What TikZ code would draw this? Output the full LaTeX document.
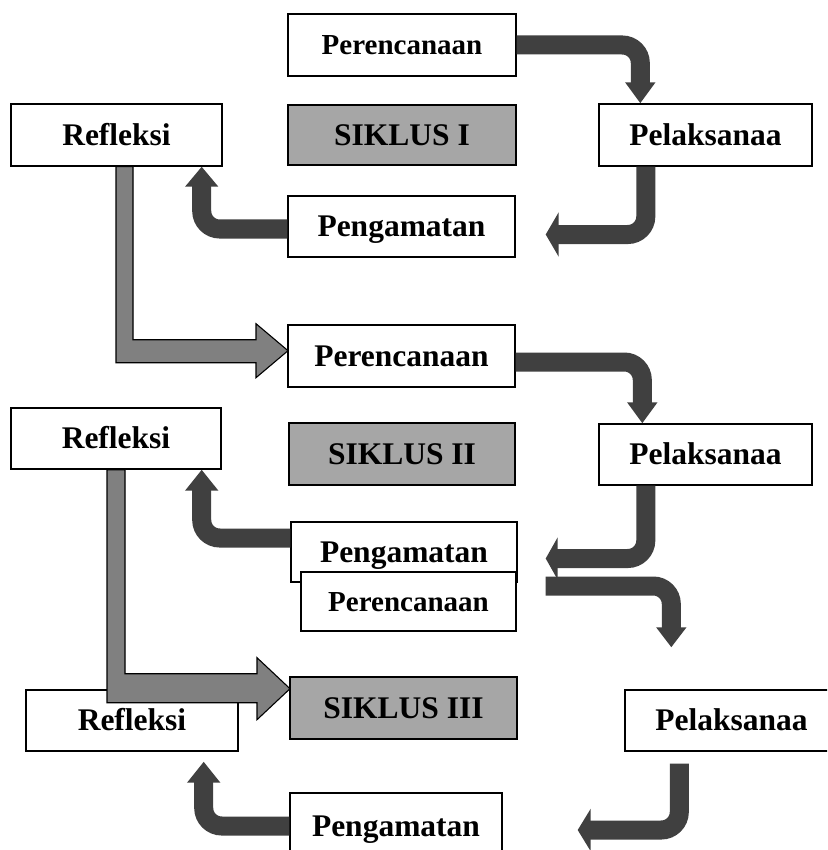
\documentclass[tikz,border=0pt]{standalone}
\usepackage{fontspec}
\setmainfont{Liberation Serif}
\usetikzlibrary{arrows.meta,calc}
\definecolor{darkarrow}{HTML}{404040}
\definecolor{midgray}{HTML}{808080}
\definecolor{boxgray}{HTML}{A6A6A6}
\definecolor{shadowgray}{HTML}{B8B8B8}
\begin{document}
\begin{tikzpicture}[x=1pt,y=-1pt,
  box/.style={draw=black, line width=1.4pt, fill=white, inner sep=0pt,
    text height=20.9pt, text depth=0pt,
    font=\fontsize{31.5}{36}\selectfont\bfseries},
  smallbox/.style={box, text height=19.2pt, font=\fontsize{29}{34}\selectfont\bfseries},
  graybox/.style={box, fill=boxgray},
  dk/.style={draw=darkarrow, line width=19pt, rounded corners=18pt},
  grayarrow/.style={fill=midgray, draw=black, line width=1.1pt, line join=miter},
  grayshadow/.style={fill=shadowgray}
]
\useasboundingbox (0,0) rectangle (827,850);
\fill[white] (0,0) rectangle (827,850);
\clip (0,0) rectangle (827,850);

% ---------- Cycle I ----------
\node[smallbox, minimum width=228, minimum height=62] (p1) at (402,45) {Perencanaan};
\node[graybox,  minimum width=228, minimum height=60] (s1) at (402,135) {SIKLUS I};
\node[box, minimum width=211, minimum height=62] (r1) at (116.5,135) {Refleksi};
\node[box, minimum width=213, minimum height=62] (pl1) at (705.5,135) {Pelaksanaa};
\node[box, minimum width=227, minimum height=61] (pg1) at (401.5,226.5) {Pengamatan};

% ---------- Cycle II ----------
\node[box, minimum width=227, minimum height=62] (p2) at (401.5,356) {Perencanaan};
\node[box, minimum width=210, minimum height=61] (r2) at (116,438.5) {Refleksi};
\node[graybox, minimum width=226, minimum height=62] (s2) at (402,454) {SIKLUS II};
\node[box, minimum width=213, minimum height=61] (pl2) at (705.5,454.5) {Pelaksanaa};
\node[box, minimum width=226, minimum height=60] (pg2) at (404,552) {Pengamatan};
\node[smallbox, minimum width=215, minimum height=59] (p3) at (408.5,601.5) {Perencanaan};

% ---------- Cycle III ----------
\node[graybox, minimum width=227, minimum height=62] (s3) at (403.5,708) {SIKLUS III};
\node[box, minimum width=212, minimum height=61] (r3) at (132,720.5) {Refleksi};
\node[box, minimum width=213, minimum height=61] (pl3) at (731.5,720.5) {Pelaksanaa};
\node[box, minimum width=212, minimum height=66] (pg3) at (396,826) {Pengamatan};

% ---------- free ends ----------
\coordinate (b1e) at ($(pg1.east)+(30,8)$);
\coordinate (b2e) at ($(pg2.east)+(28,6.5)$);
\coordinate (a3s) at ($(p3.east)+(29,-15.5)$);
\coordinate (a3e) at ($(pl3.north west)+(47,-42)$);
\coordinate (b3s) at ($(pl3.south west)+(55,12)$);
\coordinate (b3e) at ($(pg3.east)+(75,4)$);

% ---------- dark bent arrows ----------
\draw[dk, -{Triangle[length=21pt,width=29pt]}] (p1.east) -| ($(pl1.north west)+(42,0)$);
\draw[dk, -{Triangle[length=13pt,width=44pt]}] ($(pl1.south west)+(47.5,0)$) |- (b1e);
\draw[dk, -{Triangle[length=20pt,width=32pt]}] ($(pg1.west)+(0,2.5)$) -| ($(r1.south east)+(-21,0)$);

\draw[dk, -{Triangle[length=21pt,width=29pt]}] ($(p2.east)+(0,6)$) -| ($(pl2.north west)+(44,0)$);
\draw[dk, -{Triangle[length=12pt,width=42pt]}] ($(pl2.south west)+(47.5,0)$) |- (b2e);
\draw[dk, -{Triangle[length=21pt,width=32pt]}] ($(pg2.west)+(0,-14)$) -| ($(r2.south east)+(-20,0)$);

\draw[dk, -{Triangle[length=20pt,width=29pt]}] (a3s) -| (a3e);
\draw[dk, -{Triangle[length=13pt,width=42pt]}] (b3s) |- (b3e);
\draw[dk, -{Triangle[length=21pt,width=32pt]}] (pg3.west) -| ($(r3.south east)+(-35,10)$);

% ---------- gray arrows between cycles ----------
\fill[grayshadow, shift={(3,3)}] ($(r1.south)+(-0.5,0)$) -- ++(0,196) -- ++(140,0) -- ++(0,15)
  -- ++(32,-27) -- ++(-32,-27) -- ++(0,16) -- ++(-123,0) -- ++(0,-173) -- cycle;
\draw[grayarrow] ($(r1.south)+(-0.5,0)$) -- ++(0,196) -- ++(140,0) -- ++(0,15)
  -- ++(32,-27) -- ++(-32,-27) -- ++(0,16) -- ++(-123,0) -- ++(0,-173) -- cycle;

\fill[grayshadow, shift={(3,3)}] ($(r2.south)+(-9,0)$) -- ++(0,233) -- ++(150,0) -- ++(0,17)
  -- ++(33,-31) -- ++(-33,-31) -- ++(0,16) -- ++(-132,0) -- ++(0,-204) -- cycle;
\draw[grayarrow] ($(r2.south)+(-9,0)$) -- ++(0,233) -- ++(150,0) -- ++(0,17)
  -- ++(33,-31) -- ++(-33,-31) -- ++(0,16) -- ++(-132,0) -- ++(0,-204) -- cycle;
\end{tikzpicture}
\end{document}
